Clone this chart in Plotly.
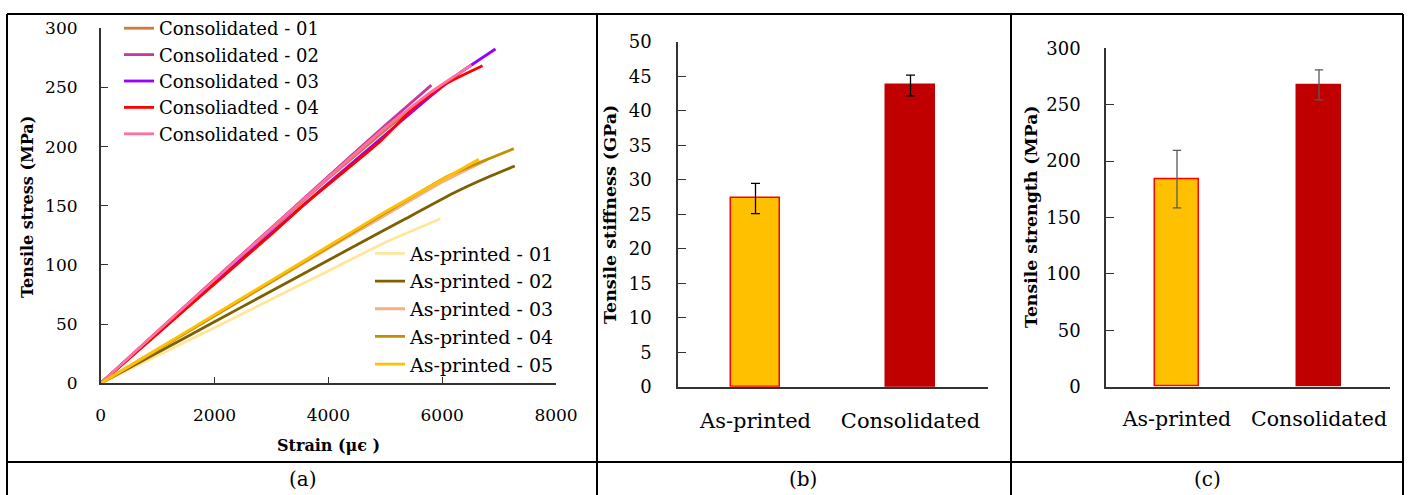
import plotly.graph_objects as go

W, H = 1408, 495

# ---------------- data: panel (a) stress-strain curves ----------------
c01_strain = [0, 1000, 2000, 3000, 4000, 5000, 5670]
c01_stress = [0, 43.5, 87, 130, 173, 214, 240]
c02_strain = [0, 1000, 2000, 3000, 4000, 5000, 5810]
c02_stress = [0, 44, 88, 131.5, 175, 218, 252]
c03_strain = [0, 1000, 2000, 3000, 4000, 5000, 5780, 6300, 6937]
c03_stress = [0, 42.5, 85, 127, 169, 210, 242, 262, 282.5]
c04_strain = [0, 1000, 2000, 3000, 3600, 4900, 5490, 6077, 6709]
c04_stress = [0, 42, 84, 126, 152, 204, 232.4, 253.5, 268.4]
c05_strain = [0, 1000, 2000, 3000, 4000, 5000, 5800, 6516]
c05_stress = [0, 44, 87.5, 131, 174, 216, 246, 269]

a01_strain = [0, 1000, 2000, 3000, 4000, 5000, 5970]
a01_stress = [0, 23.5, 47, 71, 95, 119, 139]
a02_strain = [0, 1000, 2000, 3000, 4000, 4553, 5315, 6193, 6700, 7276]
a02_stress = [0, 26, 52, 78, 104, 118.3, 138, 160.6, 172, 183.6]
a03_strain = [0, 1000, 2000, 3000, 4000, 5000, 6000, 6790]
a03_stress = [0, 28.5, 57, 85.5, 114, 142, 170, 189]
a04_strain = [0, 1000, 2000, 3000, 4000, 5000, 6077, 6700, 7258]
a04_stress = [0, 28.5, 57, 86, 115, 144, 174.6, 187.5, 198.3]
a05_strain = [0, 1000, 2000, 3000, 4000, 5000, 6000, 6644]
a05_stress = [0, 29, 58, 87, 116, 145, 172, 189.3]

cons_names = ["Consolidated - 01", "Consolidated - 02", "Consolidated - 03",
              "Consoliadted - 04", "Consolidated - 05"]
asp_names = ["As-printed - 01", "As-printed - 02", "As-printed - 03",
             "As-printed - 04", "As-printed - 05"]
cons_colors = ["#D2783C", "#C8379E", "#9900FF", "#FF0000", "#FF6FA0"]
asp_colors = ["#FFE699", "#7F6000", "#F4B183", "#BF9000", "#FFC000"]

# ---------------- data: panels (b), (c) ----------------
categories = ["As-printed", "Consolidated"]
stiffness = [27.3, 43.7]
stiffness_err = [2.2, 1.5]
strength = [184, 267.5]
strength_err = [25.5, 13.3]
bar_colors = ["#FFC000", "#C00000"]
bar_line_colors = ["#FF0000", "#C00000"]

x_ticks_a = [0, 2000, 4000, 6000, 8000]
y_ticks_a = [0, 50, 100, 150, 200, 250, 300]
y_ticks_b = [0, 5, 10, 15, 20, 25, 30, 35, 40, 45, 50]
y_ticks_c = [0, 50, 100, 150, 200, 250, 300]


def X(px):
    return px / W


def Y(py):
    return 1 - py / H


FONT = "DejaVu Serif"
AX = "#333333"

fig = go.Figure()

cons = [(c01_strain, c01_stress), (c02_strain, c02_stress), (c03_strain, c03_stress),
        (c04_strain, c04_stress), (c05_strain, c05_stress)]
asp = [(a01_strain, a01_stress), (a02_strain, a02_stress), (a03_strain, a03_stress),
       (a04_strain, a04_stress), (a05_strain, a05_stress)]

for (sx, sy), name, col in zip(cons, cons_names, cons_colors):
    fig.add_trace(go.Scatter(x=sx, y=sy, mode="lines", name=name,
                             line=dict(color=col, width=2.8, shape="spline", smoothing=0.4),
                             xaxis="x", yaxis="y", legend="legend"))
for (sx, sy), name, col in zip(asp, asp_names, asp_colors):
    fig.add_trace(go.Scatter(x=sx, y=sy, mode="lines", name=name,
                             line=dict(color=col, width=2.8, shape="spline", smoothing=0.4),
                             xaxis="x", yaxis="y", legend="legend2"))

fig.add_trace(go.Bar(x=categories, y=stiffness, width=0.316,
                     marker=dict(color=bar_colors, line=dict(color=bar_line_colors, width=1.5)),
                     error_y=dict(type="data", array=stiffness_err, color="#000000",
                                  thickness=1.3, width=4.5),
                     showlegend=False, xaxis="x2", yaxis="y2"))
fig.add_trace(go.Bar(x=categories, y=strength, width=0.314,
                     marker=dict(color=bar_colors, line=dict(color=bar_line_colors, width=1.5)),
                     error_y=dict(type="data", array=strength_err, color="#595959",
                                  thickness=1.3, width=4.2),
                     showlegend=False, xaxis="x3", yaxis="y3"))

common = dict(showline=True, linecolor=AX, linewidth=1.5, showgrid=False, zeroline=False,
              ticks="inside", tickcolor=AX, tickwidth=1.3)

fig.update_layout(
    width=W, height=H, margin=dict(l=0, r=0, t=0, b=0, autoexpand=False),
    paper_bgcolor="white", plot_bgcolor="rgba(0,0,0,0)",
    font=dict(family=FONT, color="#000000"),
    bargap=0,
    xaxis=dict(domain=[X(100.7), X(556)], range=[0, 8000], tickvals=x_ticks_a,
               anchor="y", ticklen=7, tickfont=dict(size=17), ticklabelstandoff=16, **common),
    yaxis=dict(domain=[Y(383.3), Y(28.3)], range=[0, 300], tickvals=y_ticks_a,
               anchor="x", ticklen=8, tickfont=dict(size=17), ticklabelstandoff=18, **common),
    xaxis2=dict(domain=[X(678), X(988)], range=[-0.5, 1.5], anchor="y2",
                showline=True, linecolor=AX, linewidth=1.5, showgrid=False, zeroline=False,
                ticks="", tickfont=dict(size=21), ticklabelstandoff=14),
    yaxis2=dict(domain=[Y(386.7), Y(42)], range=[0, 50], tickvals=y_ticks_b,
                anchor="x2", ticklen=8, tickfont=dict(size=18), ticklabelstandoff=21, **common),
    xaxis3=dict(domain=[X(1106), X(1390)], range=[-0.5, 1.5], anchor="y3",
                showline=True, linecolor=AX, linewidth=1.5, showgrid=False, zeroline=False,
                ticks="", tickfont=dict(size=20.5), ticklabelstandoff=13),
    yaxis3=dict(domain=[Y(386.7), Y(48.3)], range=[0, 300], tickvals=y_ticks_c,
                anchor="x3", ticklen=8, tickfont=dict(size=18), ticklabelstandoff=20, **common),
    legend=dict(x=X(119), y=Y(10), xanchor="left", yanchor="top",
                bgcolor="rgba(0,0,0,0)", font=dict(size=18, family=FONT),
                tracegroupgap=0, itemwidth=30),
    legend2=dict(x=X(370), y=Y(234.5), xanchor="left", yanchor="top",
                 bgcolor="rgba(0,0,0,0)", font=dict(size=19, family=FONT),
                 tracegroupgap=0, itemwidth=30),
)

# ---------------- table borders ----------------
border = dict(color="#000000", width=2)
shapes = [
    dict(type="line", xref="paper", yref="paper", x0=X(7), x1=X(1403), y0=Y(14), y1=Y(14), line=border),
    dict(type="line", xref="paper", yref="paper", x0=X(7), x1=X(1403), y0=Y(462), y1=Y(462), line=border),
    dict(type="line", xref="paper", yref="paper", x0=X(7), x1=X(7), y0=Y(14), y1=Y(495), line=border),
    dict(type="line", xref="paper", yref="paper", x0=X(597), x1=X(597), y0=Y(14), y1=Y(495), line=border),
    dict(type="line", xref="paper", yref="paper", x0=X(1011), x1=X(1011), y0=Y(14), y1=Y(495), line=border),
    dict(type="line", xref="paper", yref="paper", x0=X(1403), x1=X(1403), y0=Y(14), y1=Y(495), line=border),
]
fig.update_layout(shapes=shapes)

ann = []
def note(text, px, py, size, angle=0):
    ann.append(dict(text=text, x=X(px), y=Y(py), xref="paper", yref="paper",
                    xanchor="center", yanchor="middle", showarrow=False, textangle=angle,
                    font=dict(family=FONT, size=size, color="#000000")))

note("<b>Tensile stress (MPa)</b>", 27, 207, 16, -90)
note("<b>Strain (μϵ )</b>", 328, 445, 16)
note("<b>Tensile stiffness (GPa)</b>", 610, 215, 17.5, -90)
note("<b>Tensile strength (MPa)</b>", 1031, 217, 17.3, -90)
note("(a)", 303, 479, 20)
note("(b)", 803, 479, 20)
note("(c)", 1207, 479, 20)
fig.update_layout(annotations=ann)

fig.write_html("out.html", config={"displayModeBar": False},
               post_script="document.body.style.margin='0';document.body.style.overflow='hidden';")
